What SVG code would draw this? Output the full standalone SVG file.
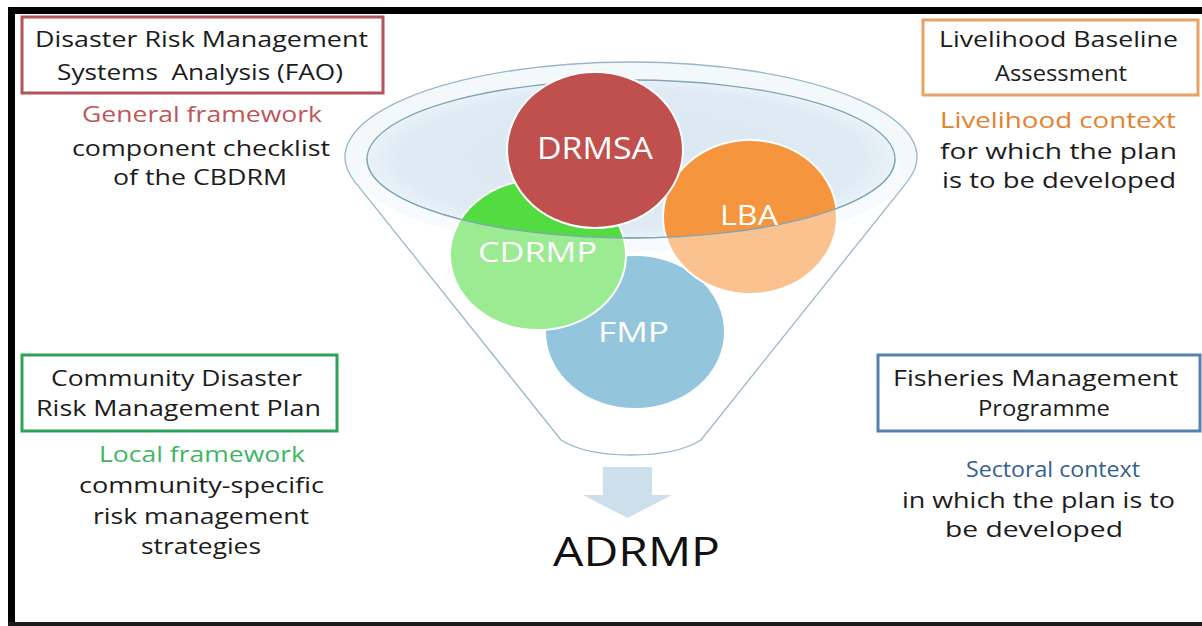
<svg xmlns="http://www.w3.org/2000/svg" width="1202" height="626" viewBox="0 0 1202 626">
  <style>
    .t { font-family: "Open Sans", "Noto Sans", "Liberation Sans", sans-serif; font-size: 21px; text-anchor: middle; fill: #1c1c1c; }
    .t.red { fill: #c0555a; }
    .t.orange { fill: #e3822f; }
    .t.green { fill: #3fb665; }
    .t.blue { fill: #355f8e; }
    .t.big { font-size: 40px; fill: #111111; }
    .box { fill: #ffffff; stroke-width: 3; }
    .ct { font-family: "Open Sans", "Noto Sans", "Liberation Sans", sans-serif; text-anchor: middle; fill: #ffffff; }
    .disc { stroke: #ffffff; stroke-width: 2; }
    .rim { fill: none; stroke-width: 1.3; }
  </style>
  <defs>
    <radialGradient id="bowl" cx="0.5" cy="0.5" r="0.5">
      <stop offset="0" stop-color="#dbe8f1"/>
      <stop offset="0.88" stop-color="#dfeaf3"/>
      <stop offset="1" stop-color="#eaf2f7"/>
    </radialGradient>
  </defs>

  <rect width="1202" height="626" fill="#ffffff"/>

  <!-- frame -->
  <g id="frame">
    <rect x="8" y="7" width="1194" height="7" fill="#000"/>
    <rect x="8" y="7" width="7" height="616" fill="#000"/>
    <rect x="8" y="622" width="1194" height="4" fill="#1a1a1a"/>
  </g>

  <!-- funnel -->
  <g id="funnel">
    <path d="M354.5,181.3 A286 95 0 1 1 907.5,181.3 L701,440 C682,452 657,455 631,455 C605,455 580,452 561,440 Z" fill="#ffffff"/>
    <ellipse cx="631" cy="157" rx="286" ry="95" fill="#f3f8fb"/>
    <ellipse cx="631" cy="159" rx="264" ry="79" fill="url(#bowl)" stroke="#7fa5b8" stroke-width="1.3"/>
  </g>

  <!-- discs -->
  <g id="node-fmp">
    <ellipse class="disc" cx="635" cy="332" rx="90" ry="77" fill="#459dc3"/>
  </g>
  <g id="node-lba">
    <ellipse class="disc" cx="750" cy="217" rx="87" ry="77" fill="#f5963f"/>
  </g>
  <g id="node-cdrmp">
    <ellipse class="disc" cx="538" cy="255" rx="88" ry="75" fill="#52dc42"/>
  </g>
  <g id="node-drmsa">
    <ellipse class="disc" cx="595" cy="150" rx="88" ry="78" fill="#c0504d"/>
  </g>

  <!-- front of the funnel: translucent white over the lower part -->
  <g id="funnel-front">
    <path d="M367,159 A264 79 0 0 0 895,159 L907.5,181.3 L701,440 C682,452 657,455 631,455 C605,455 580,452 561,440 L354.5,181.3 Z" fill="#ffffff" fill-opacity="0.42"/>
    <path class="rim" d="M367,159 A264 79 0 0 0 895,159" stroke="#7fa5b8"/>
    <path class="rim" d="M354.5,181.3 A286 95 0 1 1 907.5,181.3 L701,440 C682,452 657,455 631,455 C605,455 580,452 561,440 Z" stroke="#97b8c9"/>
  </g>

  <!-- disc labels -->
  <g id="disc-labels">
    <text class="ct" x="595" y="159" font-size="31" textLength="116" lengthAdjust="spacingAndGlyphs">DRMSA</text>
    <text class="ct" x="537.5" y="262" font-size="28" textLength="119" lengthAdjust="spacingAndGlyphs">CDRMP</text>
    <text class="ct" x="749" y="225" font-size="27" textLength="58" lengthAdjust="spacingAndGlyphs">LBA</text>
    <text class="ct" x="633.5" y="342" font-size="28" textLength="71" lengthAdjust="spacingAndGlyphs">FMP</text>
  </g>

  <!-- output arrow -->
  <g id="connectors">
    <path d="M603,467 L652,467 L652,495 L672,495 L627.5,518 L583,495 L603,495 Z" fill="#cddfea"/>
  </g>

  <g id="node-adrmp">
    <text class="t big" x="636.5" y="566" textLength="167" lengthAdjust="spacingAndGlyphs">ADRMP</text>
  </g>

  <!-- top left -->
  <g id="node-drmsa-box">
    <rect class="box" x="22" y="17" width="361" height="76" stroke="#b3535a"/>
    <text class="t" x="201.5" y="47" textLength="333" lengthAdjust="spacingAndGlyphs">Disaster Risk Management</text>
    <text class="t" x="200" y="80" textLength="286" lengthAdjust="spacingAndGlyphs" xml:space="preserve">Systems  Analysis (FAO)</text>
    <text class="t red" x="202" y="122" textLength="240" lengthAdjust="spacingAndGlyphs">General framework</text>
    <text class="t" x="201" y="156" textLength="258" lengthAdjust="spacingAndGlyphs">component checklist</text>
    <text class="t" x="200" y="185" textLength="174" lengthAdjust="spacingAndGlyphs">of the CBDRM</text>
  </g>

  <!-- top right -->
  <g id="node-lba-box">
    <rect class="box" x="923" y="20" width="275" height="75" stroke="#e8a262"/>
    <text class="t" x="1058.5" y="47" textLength="239" lengthAdjust="spacingAndGlyphs">Livelihood Baseline</text>
    <text class="t" x="1061" y="81" textLength="132" lengthAdjust="spacingAndGlyphs">Assessment</text>
    <text class="t orange" x="1058" y="128" textLength="236" lengthAdjust="spacingAndGlyphs">Livelihood context</text>
    <text class="t" x="1058.5" y="159" textLength="237" lengthAdjust="spacingAndGlyphs">for which the plan</text>
    <text class="t" x="1059" y="188" textLength="234" lengthAdjust="spacingAndGlyphs">is to be developed</text>
  </g>

  <!-- bottom left -->
  <g id="node-cdrmp-box">
    <rect class="box" x="22" y="355" width="315" height="76" stroke="#2ea25a"/>
    <text class="t" x="176.5" y="386" textLength="251" lengthAdjust="spacingAndGlyphs">Community Disaster</text>
    <text class="t" x="178.5" y="416" textLength="285" lengthAdjust="spacingAndGlyphs">Risk Management Plan</text>
    <text class="t green" x="202" y="462" textLength="206" lengthAdjust="spacingAndGlyphs">Local framework</text>
    <text class="t" x="201.5" y="493" textLength="245" lengthAdjust="spacingAndGlyphs">community-specific</text>
    <text class="t" x="201" y="524" textLength="216" lengthAdjust="spacingAndGlyphs">risk management</text>
    <text class="t" x="201" y="554" textLength="120" lengthAdjust="spacingAndGlyphs">strategies</text>
  </g>

  <!-- bottom right -->
  <g id="node-fmp-box">
    <rect class="box" x="878" y="355" width="322" height="76" stroke="#5580b0"/>
    <text class="t" x="1035.5" y="386" textLength="285" lengthAdjust="spacingAndGlyphs">Fisheries Management</text>
    <text class="t" x="1044" y="416" textLength="132" lengthAdjust="spacingAndGlyphs">Programme</text>
    <text class="t blue" x="1053" y="477" textLength="174" lengthAdjust="spacingAndGlyphs">Sectoral context</text>
    <text class="t" x="1038.5" y="508" textLength="273" lengthAdjust="spacingAndGlyphs">in which the plan is to</text>
    <text class="t" x="1034" y="537" textLength="178" lengthAdjust="spacingAndGlyphs">be developed</text>
  </g>
</svg>
